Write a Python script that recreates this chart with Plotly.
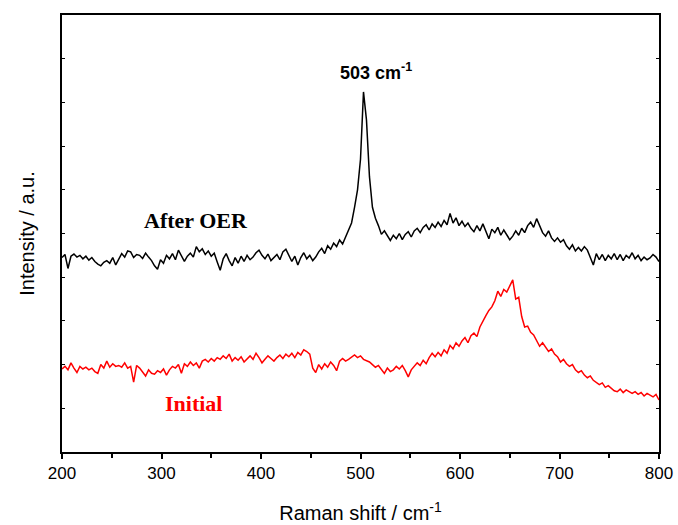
import numpy as np
import plotly.graph_objects as go

# Raman shift grid (cm^-1), 3 cm^-1 spacing
raman_shift = np.arange(200, 801, 3)

# Spectrum after OER (arbitrary units, offset upward)
after_oer = [
    44.5, 45.2, 42.0, 44.8, 45.3, 44.6, 45.0, 44.2, 44.8, 43.9,
    44.5, 43.6, 43.0, 42.6, 43.4, 43.8, 43.2, 44.5, 42.8, 44.0,
    45.4, 44.6, 46.0, 45.8, 44.5, 45.2, 45.0, 44.3, 45.5, 44.6,
    43.8, 42.6, 41.8, 44.0, 43.2, 45.0, 44.2, 45.4, 44.0, 46.2,
    45.0, 43.6, 44.8, 45.5, 44.6, 47.0, 45.8, 46.5, 45.2, 46.0,
    44.8, 45.5, 43.5, 41.6, 44.2, 45.4, 43.8, 42.6, 44.5, 43.2,
    44.8, 43.6, 45.0, 44.0, 44.6, 45.6, 46.2, 45.0, 44.2, 45.3,
    43.8, 44.6, 45.2, 44.0, 45.8, 46.4, 45.0, 43.6, 44.8, 42.8,
    44.5, 45.6, 44.2, 45.0, 43.8, 44.6, 45.8, 46.6, 45.4, 47.2,
    46.4, 47.8, 47.0, 48.5, 47.6, 49.2, 50.8, 52.4, 56.0, 60.0,
    67.0, 82.4, 76.0, 63.0, 56.0, 53.5, 51.8, 49.8, 50.6, 49.4,
    48.4, 49.6, 48.8, 50.0, 48.6, 49.8, 50.4, 49.2, 50.6, 51.2,
    50.2, 51.4, 52.0, 50.8, 52.2, 51.4, 52.6, 51.6, 53.0, 52.0,
    54.6, 52.4, 53.6, 51.8, 52.8, 51.6, 52.4, 51.2, 50.4, 51.8,
    50.6, 52.2, 50.4, 48.8, 51.0, 50.2, 51.4, 49.6, 50.8, 49.8,
    48.6, 49.4, 50.6, 49.6, 51.2, 50.2, 51.8, 52.6, 51.4, 53.4,
    51.6, 50.2, 49.4, 50.6, 49.0, 48.2, 49.0, 48.0, 48.6, 47.2,
    46.4, 47.4, 46.0, 46.8, 46.0, 47.0, 46.2, 44.6, 42.8, 45.4,
    44.0, 45.2, 43.8, 45.0, 44.2, 45.4, 44.0, 45.2, 43.8, 45.0,
    44.4, 45.6, 44.2, 45.0, 43.8, 44.6, 44.0, 44.4, 45.2, 44.6,
    43.6,
]

# Spectrum of the initial sample (arbitrary units)
initial = [
    19.0, 19.6, 18.8, 20.4, 19.2, 18.2, 19.6, 19.0, 19.4, 18.8,
    19.2, 18.4, 18.0, 20.0, 19.2, 20.8, 19.4, 20.2, 19.6, 19.8,
    19.4, 20.4, 19.2, 19.6, 16.0, 19.8, 19.2, 18.4, 17.4, 18.8,
    18.0, 17.8, 18.6, 18.2, 19.0, 17.6, 18.8, 19.6, 19.2, 20.0,
    18.0, 20.2, 19.6, 20.6, 19.8, 20.4, 19.2, 20.8, 21.2, 20.6,
    21.4, 20.8, 21.6, 21.2, 22.0, 21.4, 22.4, 20.8, 21.6, 21.0,
    21.8, 20.6, 21.4, 22.0, 21.2, 22.6, 21.6, 20.4, 21.2, 22.0,
    21.4, 20.8, 21.6, 22.2, 21.4, 22.4, 21.8, 22.6, 21.6, 22.8,
    22.2, 23.4, 23.0, 22.4, 19.2, 18.2, 20.0, 19.0, 20.2, 19.4,
    20.6, 19.8, 18.6, 20.8, 21.4, 20.8, 21.2, 21.8, 22.2, 21.6,
    22.0, 21.2, 20.8, 20.6, 20.0, 19.4, 19.8, 18.8, 18.0, 19.2,
    18.4, 18.8, 19.6, 19.0, 19.8, 18.6, 17.2, 18.8, 19.6, 20.4,
    19.8, 21.0, 20.2, 21.6, 22.6, 21.8, 22.8, 22.0, 23.4, 22.6,
    24.4, 23.6, 25.0, 24.2, 25.4, 26.2, 25.0, 26.6, 27.2, 26.4,
    28.6, 30.0, 31.2, 32.4, 33.2, 34.6, 36.8, 35.6, 37.2, 36.6,
    38.0, 39.4, 35.0, 35.4, 31.0, 28.6, 28.8, 27.4, 26.8, 25.6,
    24.2, 25.0, 24.0, 23.0, 23.6, 22.4, 21.8, 20.6, 21.2, 20.2,
    19.6, 20.0, 18.8, 18.2, 18.6, 17.6, 17.0, 17.4, 16.4, 16.0,
    15.4, 15.8, 14.8, 15.2, 14.6, 14.0, 13.8, 14.4, 13.6, 14.2,
    13.8, 13.4, 13.8, 13.2, 13.6, 12.8, 13.4, 13.0, 12.6, 13.2,
    11.9,
]

peak_position = 503
peak_intensity = after_oer[list(raman_shift).index(peak_position)]

fig = go.Figure()
fig.add_trace(go.Scatter(x=raman_shift, y=after_oer, mode="lines",
                         line=dict(color="black", width=1.5),
                         name="After OER", showlegend=False))
fig.add_trace(go.Scatter(x=raman_shift, y=initial, mode="lines",
                         line=dict(color="#ff0000", width=1.5),
                         name="Initial", showlegend=False))

# Peak label and curve labels
fig.add_annotation(x=peak_position + 13, y=peak_intensity + 4.6,
                   text=f"<b>{peak_position} cm<sup>-1</sup></b>",
                   showarrow=False, yanchor="middle",
                   font=dict(family="Liberation Sans, Arial", size=18, color="black"))
fig.add_annotation(x=335, y=52.9, text="<b>After OER</b>", showarrow=False,
                   font=dict(family="Liberation Serif, Times New Roman", size=22, color="black"))
fig.add_annotation(x=332, y=11.0, text="<b>Initial</b>", showarrow=False,
                   font=dict(family="Liberation Serif, Times New Roman", size=22, color="#ff0000"))

fig.update_xaxes(
    range=[200, 800], dtick=100, tick0=200,
    ticks="outside", ticklen=5, tickwidth=1.5, tickcolor="black",
    minor=dict(ticks="outside", dtick=50, ticklen=4, tickwidth=1.5, tickcolor="black"),
    showline=True, linewidth=2, linecolor="black", mirror=True,
    showgrid=False, zeroline=False, automargin=False,
    ticklabeloverflow="allow",
    tickfont=dict(family="Liberation Sans, Arial", size=17, color="black"),
    title=dict(text="Raman shift / cm<sup>-1</sup>", standoff=24,
               font=dict(family="Liberation Sans, Arial", size=20, color="black")),
)
fig.update_yaxes(
    range=[0, 100], dtick=10,
    ticks="inside", ticklen=3, tickwidth=1, tickcolor="black",
    showticklabels=False,
    showline=True, linewidth=2, linecolor="black", mirror="ticks",
    showgrid=False, zeroline=False, automargin=False,
    title=dict(text="Intensity / a.u.", standoff=20,
               font=dict(family="Liberation Sans, Arial", size=20, color="black")),
)
fig.update_layout(
    width=678, height=525,
    margin=dict(l=62, r=19, t=15, b=73),
    paper_bgcolor="white", plot_bgcolor="white",
)

fig.write_html("out.html")
